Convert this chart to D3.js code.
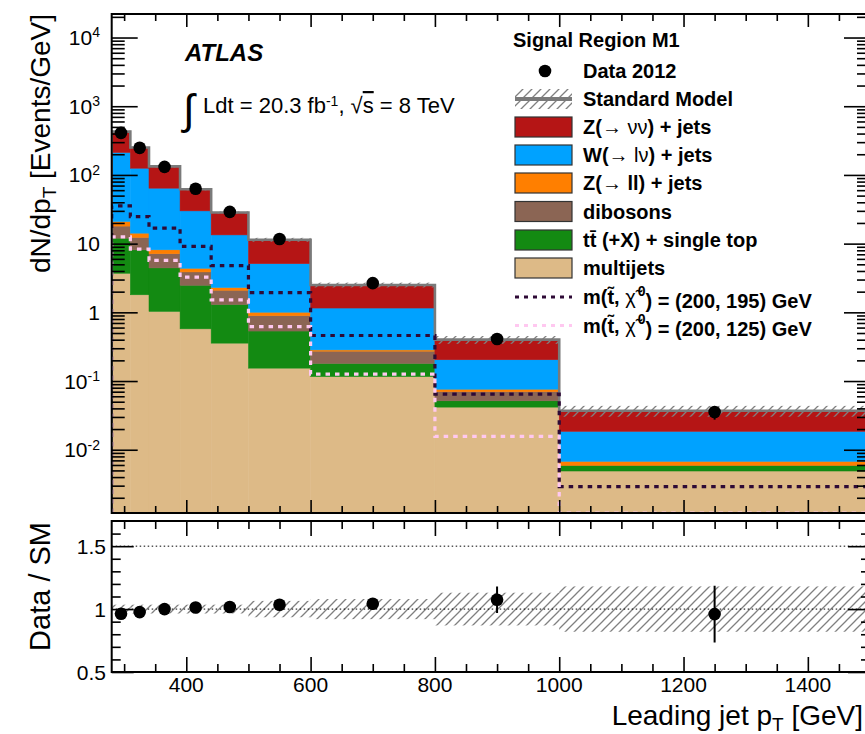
<!DOCTYPE html>
<html>
<head>
<meta charset="utf-8">
<script src="https://cdn.jsdelivr.net/npm/d3@7"></script>
<style>
body { margin: 0; background: #fff; }
svg { display: block; font-family: "Liberation Sans", Arial, Helvetica, sans-serif; }
</style>
</head>
<body>
<script>
// binning (GeV)
const binEdges = [280, 310, 340, 390, 440, 500, 600, 800, 1000, 1500];
const binCenters = [295, 325, 365, 415, 470, 550, 700, 900, 1250];

// SM backgrounds in events/GeV, bottom of the stack first
const multijets = [3.7, 1.8, 1.03, 0.575, 0.356, 0.154, 0.116, 0.0417, 0.0049];
const ttbar = [8.3, 6.3, 3.4, 1.9, 0.94, 0.38, 0.064, 0.0098, 0.001];
const dibosons = [6.0, 4.2, 2.7, 1.4, 0.8, 0.36, 0.092, 0.0185, 0.00002];
const zll = [3.0, 1.9, 1.0, 0.5, 0.2, 0.11, 0.012, 0.006, 0.00085];
const wlnu = [191, 111, 56, 25.6, 11.1, 4.1, 0.87, 0.128, 0.0117];
const znunu = [215, 125, 69, 32, 15, 6.3, 1.35, 0.196, 0.0184];
const smRelErr = [0.035, 0.035, 0.035, 0.035, 0.035, 0.065, 0.08, 0.13, 0.18];

// data and signals
const dataY = [410, 248, 131, 63, 29, 11.7, 2.66, 0.41, 0.0354];
const dataRelErr = [0.01, 0.01, 0.012, 0.015, 0.02, 0.03, 0.045, 0.105, 0.225];
const sig195 = [35.5, 24.8, 16.8, 9.1, 4.8, 1.94, 0.46, 0.0645, 0.0029];
const sig125 = [12.5, 8.3, 5.7, 3.25, 1.52, 0.62, 0.126, 0.0156, 0.0008];

// lower panel
const ratio = [0.963, 0.976, 1.0, 1.013, 1.016, 1.034, 1.042, 1.074, 0.96];
const ratioErr = [0.01, 0.01, 0.012, 0.015, 0.02, 0.03, 0.045, 0.105, 0.225];

// axis ticks
const yMajorExp = [-2, -1, 0, 1, 2, 3, 4];
const ratioLabels = [0.5, 1, 1.5];
const xLabels = [400, 600, 800, 1000, 1200, 1400];

const keys = ['multijets', 'ttbar', 'dibosons', 'zll', 'wlnu', 'znunu'];
const colors = {
	multijets: '#ddba87', ttbar: '#138a12', dibosons: '#8b6554',
	zll: '#ff7f00', wlnu: '#00a2ff', znunu: '#b51515'
};
const sig195Color = '#2e0a36';
const sig125Color = '#ffc8f0';

const width = 865, height = 734;
const left = 111.7, right = 870;
const mainTop = 14, mainBottom = 513;
const ratTop = 521, ratBottom = 672;

const svg = d3.select('body').append('svg')
	.attr('width', width)
	.attr('height', height);

const defs = svg.append('defs');
const hatch = defs.append('pattern')
	.attr('id', 'hatch')
	.attr('patternUnits', 'userSpaceOnUse')
	.attr('width', 9).attr('height', 9);
hatch.append('path')
	.attr('d', 'M-2,2 l4,-4 M0,9 l9,-9 M7,11 l4,-4')
	.attr('stroke', '#808080')
	.attr('stroke-width', 1.3);
defs.append('clipPath').attr('id', 'clipMain').append('rect')
	.attr('x', left).attr('y', mainTop).attr('width', right - left).attr('height', mainBottom - mainTop);
defs.append('clipPath').attr('id', 'clipRat').append('rect')
	.attr('x', left).attr('y', ratTop).attr('width', right - left).attr('height', ratBottom - ratTop);

const x = d3.scaleLinear().domain([280, 1500]).range([left, right]);
const yDom = [0.0012, 22000];
const y = d3.scaleLog().domain(yDom).range([mainBottom, mainTop]);
const yc = v => y(Math.max(v, yDom[0]));
const yr = d3.scaleLinear().domain([0.5, 1.7]).range([ratBottom, ratTop]);

// ---- main panel ----
const table = binCenters.map((c, i) => ({
	i: i, multijets: multijets[i], ttbar: ttbar[i], dibosons: dibosons[i],
	zll: zll[i], wlnu: wlnu[i], znunu: znunu[i]
}));
const series = d3.stack().keys(keys)(table);
const total = table.map(d => d3.sum(keys, k => d[k]));

const plot = svg.append('g').attr('clip-path', 'url(#clipMain)');

for (let s of series) {
	plot.append('g').selectAll('rect')
		.data(s)
		.enter().append('rect')
		.attr('x', (d, i) => x(binEdges[i]))
		.attr('width', (d, i) => x(binEdges[i + 1]) - x(binEdges[i]))
		.attr('y', d => yc(d[1]))
		.attr('height', d => yc(d[0]) - yc(d[1]))
		.style('fill', colors[s.key])
		.style('stroke', colors[s.key])
		.style('stroke-width', 0.5);
}

// SM uncertainty band on top of the stack
plot.append('g').selectAll('rect')
	.data(total)
	.enter().append('rect')
	.attr('x', (d, i) => x(binEdges[i]))
	.attr('width', (d, i) => x(binEdges[i + 1]) - x(binEdges[i]))
	.attr('y', (d, i) => yc(d * (1 + smRelErr[i])))
	.attr('height', (d, i) => yc(d * (1 - smRelErr[i])) - yc(d * (1 + smRelErr[i])))
	.style('fill', 'url(#hatch)');

function stepPoints(vals) {
	let pts = [[binEdges[0], yDom[0]]];
	vals.forEach((v, i) => pts.push([binEdges[i], v]));
	pts.push([binEdges[binEdges.length - 1], vals[vals.length - 1]]);
	pts.push([binEdges[binEdges.length - 1], yDom[0]]);
	return pts;
}
const step = d3.line()
	.x(d => x(d[0]))
	.y(d => yc(d[1]))
	.curve(d3.curveStepAfter);

plot.append('path')
	.attr('d', step(stepPoints(total)))
	.style('fill', 'none')
	.style('stroke', '#7a7a7a')
	.style('stroke-width', 2.6);

plot.append('path')
	.attr('d', step(stepPoints(sig195)))
	.style('fill', 'none')
	.style('stroke', sig195Color)
	.style('stroke-width', 3.2)
	.style('stroke-dasharray', '4.5,5');

plot.append('path')
	.attr('d', step(stepPoints(sig125)))
	.style('fill', 'none')
	.style('stroke', sig125Color)
	.style('stroke-width', 3.2)
	.style('stroke-dasharray', '4.5,5');

// data
plot.append('g').selectAll('line')
	.data(dataY)
	.enter().append('line')
	.attr('x1', (d, i) => x(binCenters[i]))
	.attr('x2', (d, i) => x(binCenters[i]))
	.attr('y1', (d, i) => yc(d * (1 + dataRelErr[i])))
	.attr('y2', (d, i) => yc(d * (1 - dataRelErr[i])))
	.style('stroke', '#000')
	.style('stroke-width', 2);
plot.append('g').selectAll('circle')
	.data(dataY)
	.enter().append('circle')
	.attr('cx', (d, i) => x(binCenters[i]))
	.attr('cy', d => yc(d))
	.attr('r', 6.3)
	.style('fill', '#000');

// ---- ratio panel ----
const rat = svg.append('g').attr('clip-path', 'url(#clipRat)');
rat.append('g').selectAll('rect')
	.data(smRelErr)
	.enter().append('rect')
	.attr('x', (d, i) => x(binEdges[i]))
	.attr('width', (d, i) => x(binEdges[i + 1]) - x(binEdges[i]))
	.attr('y', d => yr(1 + d))
	.attr('height', d => yr(1 - d) - yr(1 + d))
	.style('fill', 'url(#hatch)');

for (let v of [1, 1.5]) {
	rat.append('line')
		.attr('x1', left).attr('x2', right)
		.attr('y1', yr(v)).attr('y2', yr(v))
		.style('stroke', '#000')
		.style('stroke-width', 1)
		.style('stroke-dasharray', '1.5,2.5');
}

rat.append('g').selectAll('line')
	.data(ratio)
	.enter().append('line')
	.attr('x1', (d, i) => x(binCenters[i]))
	.attr('x2', (d, i) => x(binCenters[i]))
	.attr('y1', (d, i) => yr(d + ratioErr[i]))
	.attr('y2', (d, i) => yr(d - ratioErr[i]))
	.style('stroke', '#000')
	.style('stroke-width', 2);
rat.append('g').selectAll('circle')
	.data(ratio)
	.enter().append('circle')
	.attr('cx', (d, i) => x(binCenters[i]))
	.attr('cy', d => yr(d))
	.attr('r', 6.3)
	.style('fill', '#000');

// ---- axes ----
function ticks(gen, tx, ty) {
	let g = svg.append('g').attr('transform', 'translate(' + tx + ',' + ty + ')').call(gen);
	g.select('.domain').remove();
	g.selectAll('text').remove();
	g.selectAll('line').style('stroke', '#000').style('stroke-width', 1.6);
}

const xMinor = d3.range(300, 1500, 50).filter(v => v % 200 !== 0);
const xMajor = d3.range(400, 1500, 200);

// main x ticks, bottom and top
ticks(d3.axisBottom(x).tickValues(xMajor).tickSize(-13), 0, mainBottom);
ticks(d3.axisBottom(x).tickValues(xMinor).tickSize(-7), 0, mainBottom);
ticks(d3.axisTop(x).tickValues(xMajor).tickSize(-13), 0, mainTop);
ticks(d3.axisTop(x).tickValues(xMinor).tickSize(-7), 0, mainTop);

// main y ticks
const yMajor = yMajorExp.map(e => Math.pow(10, e));
let yMinor = [];
for (let e = -3; e <= 4; e++) {
	for (let m = 2; m <= 9; m++) {
		let v = m * Math.pow(10, e);
		if (v > yDom[0] && v < yDom[1]) yMinor.push(v);
	}
}
ticks(d3.axisLeft(y).tickValues(yMajor).tickSize(-26), left, 0);
ticks(d3.axisLeft(y).tickValues(yMinor).tickSize(-13), left, 0);
ticks(d3.axisRight(y).tickValues(yMajor).tickSize(-26), right, 0);
ticks(d3.axisRight(y).tickValues(yMinor).tickSize(-13), right, 0);

// ratio ticks
ticks(d3.axisBottom(x).tickValues(xMajor).tickSize(-15), 0, ratBottom);
ticks(d3.axisBottom(x).tickValues(xMinor).tickSize(-8), 0, ratBottom);
ticks(d3.axisTop(x).tickValues(xMajor).tickSize(-15), 0, ratTop);
ticks(d3.axisTop(x).tickValues(xMinor).tickSize(-8), 0, ratTop);
const rMinor = d3.range(6, 17).map(v => v / 10).filter(v => v !== 1 && v !== 1.5);
ticks(d3.axisLeft(yr).tickValues(ratioLabels).tickSize(-22), left, 0);
ticks(d3.axisLeft(yr).tickValues(rMinor).tickSize(-9), left, 0);
ticks(d3.axisRight(yr).tickValues(ratioLabels).tickSize(-22), right, 0);
ticks(d3.axisRight(yr).tickValues(rMinor).tickSize(-9), right, 0);

// frames
for (let f of [[mainTop, mainBottom], [ratTop, ratBottom]]) {
	svg.append('rect')
		.attr('x', left).attr('y', f[0])
		.attr('width', right - left).attr('height', f[1] - f[0])
		.style('fill', 'none')
		.style('stroke', '#000')
		.style('stroke-width', 2);
}

// tick labels
const yLab = svg.append('g')
	.style('font-size', '21px')
	.attr('text-anchor', 'end');
for (let e of yMajorExp) {
	let t = yLab.append('text')
		.attr('x', 100)
		.attr('y', y(Math.pow(10, e)))
		.attr('dy', '0.36em');
	if (e === 0) { t.text('1'); continue; }
	t.append('tspan').text('10');
	if (e !== 1) {
		t.append('tspan').attr('dy', '-0.55em').style('font-size', '14px').text(String(e));
	}
}
svg.append('g')
	.style('font-size', '21px')
	.attr('text-anchor', 'end')
	.selectAll('text')
	.data(ratioLabels)
	.enter().append('text')
	.attr('x', 106)
	.attr('y', d => yr(d))
	.attr('dy', '0.36em')
	.text(d => String(d));
svg.append('g')
	.style('font-size', '21px')
	.attr('text-anchor', 'middle')
	.selectAll('text')
	.data(xLabels)
	.enter().append('text')
	.attr('x', d => x(d))
	.attr('y', 692)
	.text(d => d);

// axis titles
let yt = svg.append('text')
	.attr('transform', 'translate(50,14) rotate(-90)')
	.attr('text-anchor', 'end')
	.style('font-size', '28px');
yt.append('tspan').text('dN/dp');
yt.append('tspan').attr('dy', '0.3em').style('font-size', '19px').text('T');
yt.append('tspan').attr('dy', '-0.2em').text(' [Events/GeV]');

svg.append('text')
	.attr('transform', 'translate(50,522) rotate(-90)')
	.attr('text-anchor', 'end')
	.style('font-size', '29px')
	.text('Data / SM');

let xt = svg.append('text')
	.attr('x', 863).attr('y', 725)
	.attr('text-anchor', 'end')
	.style('font-size', '28px');
xt.append('tspan').text('Leading jet p');
xt.append('tspan').attr('dy', '0.3em').style('font-size', '19px').text('T');
xt.append('tspan').attr('dy', '-0.2em').text(' [GeV]');

// ATLAS label and luminosity
svg.append('text')
	.attr('x', 185).attr('y', 61)
	.style('font-size', '24px')
	.style('font-weight', 'bold')
	.style('font-style', 'italic')
	.text('ATLAS');

svg.append('text')
	.attr('x', 183).attr('y', 124)
	.style('font-size', '42px')
	.text('\u222B');
let lumi = svg.append('text')
	.attr('x', 203).attr('y', 113)
	.style('font-size', '22px');
lumi.append('tspan').text('Ldt = 20.3 fb');
lumi.append('tspan').attr('dy', '-0.5em').style('font-size', '14px').text('-1');
lumi.append('tspan').attr('dy', '0.32em').text(', \u221A');
lumi.append('tspan').style('text-decoration', 'overline').text('s');
lumi.append('tspan').text(' = 8 TeV');

// ---- legend ----
const leg = svg.append('g').style('font-size', '20px').style('font-weight', 'bold');
leg.append('text').attr('x', 513).attr('y', 47).text('Signal Region M1');

const rowY = [71, 99, 127, 155, 183, 211.5, 240, 268, 297, 325.5];
const swX = 515, swW = 57, txtX = 583;

leg.append('circle').attr('cx', 545).attr('cy', rowY[0]).attr('r', 6.3).style('fill', '#000');
leg.append('rect').attr('x', swX).attr('y', rowY[1] - 10).attr('width', swW).attr('height', 20)
	.style('fill', 'url(#hatch)');
leg.append('line').attr('x1', swX).attr('x2', swX + swW).attr('y1', rowY[1]).attr('y2', rowY[1])
	.style('stroke', '#7a7a7a').style('stroke-width', 4);

const boxKeys = ['znunu', 'wlnu', 'zll', 'dibosons', 'ttbar', 'multijets'];
boxKeys.forEach((k, j) => {
	leg.append('rect')
		.attr('x', swX).attr('y', rowY[j + 2] - 10)
		.attr('width', swW).attr('height', 20)
		.style('fill', colors[k])
		.style('stroke', '#333')
		.style('stroke-width', 1.2);
});
leg.append('line').attr('x1', swX).attr('x2', swX + swW).attr('y1', rowY[8]).attr('y2', rowY[8])
	.style('stroke', sig195Color).style('stroke-width', 3).style('stroke-dasharray', '4,5');
leg.append('line').attr('x1', swX).attr('x2', swX + swW).attr('y1', rowY[9]).attr('y2', rowY[9])
	.style('stroke', sig125Color).style('stroke-width', 3).style('stroke-dasharray', '4,5');

function legText(row) {
	return leg.append('text').attr('x', txtX).attr('y', rowY[row] + 7);
}
legText(0).text('Data 2012');
legText(1).text('Standard Model');
let t2 = legText(2);
t2.append('tspan').text('Z(');
t2.append('tspan').style('font-weight', 'normal').text('\u2192 \u03BD\u03BD');
t2.append('tspan').text(') + jets');
let t3 = legText(3);
t3.append('tspan').text('W(');
t3.append('tspan').style('font-weight', 'normal').text('\u2192 l\u03BD');
t3.append('tspan').text(') + jets');
let t4 = legText(4);
t4.append('tspan').text('Z(');
t4.append('tspan').style('font-weight', 'normal').text('\u2192 ');
t4.append('tspan').text('ll) + jets');
legText(5).text('dibosons');
legText(6).text('tt\u0304 (+X) + single top');
legText(7).text('multijets');
[['195', 8], ['125', 9]].forEach(s => {
	let t = legText(s[1]);
	t.append('tspan').text('m(t\u0303, ');
	t.append('tspan').style('font-weight', 'normal').text('\u03C7\u0303');
	t.append('tspan').attr('dx', 2).attr('dy', '-0.6em').style('font-size', '14px').text('0');
	t.append('tspan').attr('dy', '0.6em').text(') = (200, ' + s[0] + ') GeV');
});
</script>
</body>
</html>
